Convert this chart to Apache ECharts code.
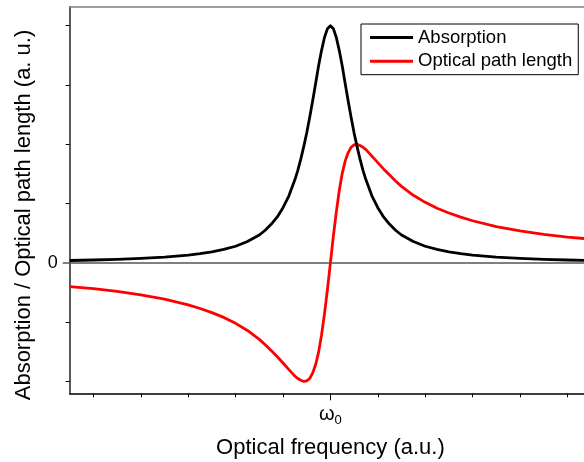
<!DOCTYPE html>
<html>
<head>
<meta charset="utf-8">
<script src="https://cdn.jsdelivr.net/npm/echarts@6/dist/echarts.min.js"></script>
<style>html,body{margin:0;padding:0;background:#fff}#c{width:584px;height:462px}</style>
</head>
<body>
<div id="c"></div>
<script>
// Data (x in tick units, omega0 at 0)
var freq = [-5.5,-5,-4.5,-4,-3.5,-3,-2.75,-2.5,-2.25,-2,-1.75,-1.5,-1.375,-1.25,-1.125,-1,-0.875,-0.75,-0.6875,-0.625,-0.5625,-0.5,-0.4375,-0.375,-0.3125,-0.25,-0.1875,-0.125,-0.0625,
  0,
  0.0625,0.125,0.1875,0.25,0.3125,0.375,0.4375,0.5,0.5625,0.625,0.6875,0.75,0.875,1,1.125,1.25,1.375,1.5,1.75,2,2.25,2.5,2.75,3,3.5,4,4.5,5,5.5];
var absorption = [0.040,0.048,0.059,0.074,0.096,0.13,0.154,0.185,0.226,0.28,0.36,0.47,0.55,0.65,0.77,0.93,1.13,1.40,1.56,1.75,1.96,2.19,2.45,2.73,3.02,3.32,3.58,3.80,3.95,
  4.0,
  3.95,3.80,3.58,3.32,3.02,2.73,2.45,2.19,1.96,1.75,1.56,1.40,1.13,0.93,0.77,0.65,0.55,0.47,0.36,0.28,0.226,0.185,0.154,0.13,0.096,0.074,0.059,0.048,0.040];
var pathLength = [-0.40,-0.435,-0.48,-0.54,-0.61,-0.71,-0.77,-0.84,-0.92,-1.02,-1.14,-1.29,-1.38,-1.48,-1.58,-1.69,-1.80,-1.91,-1.95,-1.98,-2.00,-1.99,-1.95,-1.86,-1.72,-1.51,-1.22,-0.86,-0.45,
  0,
  0.45,0.86,1.22,1.51,1.72,1.86,1.95,1.99,2.00,1.98,1.95,1.91,1.80,1.69,1.58,1.48,1.38,1.29,1.14,1.02,0.92,0.84,0.77,0.71,0.61,0.54,0.48,0.435,0.40];
var xTicks = [-5,-4,-3,-2,-1,0,1,2,3,4,5];
var yTicks = [-2,-1,1,2,3,4];
var seriesNames = ['Absorption','Optical path length'];
var xTitle = 'Optical frequency (a.u.)';
var yTitle = 'Absorption / Optical path length (a. u.)';

var FONT = 'Liberation Sans, Arial, sans-serif';
function pairs(xs, ys){ return xs.map(function(x,i){ return [x, ys[i]]; }); }

var chart = echarts.init(document.getElementById('c'), null, {renderer:'canvas'});
chart.setOption({
  animation: false,
  backgroundColor: '#fff',
  grid: {left: 69.7, top: 6.7, width: 521.4, bottom: 68.7, containLabel: false, outerBoundsMode: 'none'},
  legend: {
    data: seriesNames,
    orient: 'vertical',
    left: 361, top: 24,
    padding: [4, 6, 4, 9],
    icon: 'rect',
    itemWidth: 43, itemHeight: 3, itemGap: 4.7,
    borderColor: '#000', borderWidth: 1,
    textStyle: {fontFamily: FONT, fontSize: 18.5, color: '#000', lineHeight: 18},
    selectedMode: false
  },
  xAxis: [
    {type:'value', min:-5.5, max:5.5, position:'bottom',
     axisLine:{show:true, onZero:false, lineStyle:{color:'#000', width:1.5}},
     axisTick:{show:true, inside:false, length:4, customValues:xTicks, lineStyle:{color:'#000', width:1}},
     axisLabel:{show:false}, splitLine:{show:false},
     name: xTitle, nameLocation:'middle', nameGap:44,
     nameTextStyle:{fontFamily:FONT, fontSize:22, color:'#000'}},
    {type:'value', min:-5.5, max:5.5, position:'bottom',
     axisLine:{show:false, onZero:false},
     axisTick:{show:true, length:7, customValues:[0], lineStyle:{color:'#000', width:1}},
     axisLabel:{show:true, customValues:[0], margin:9,
       formatter:function(){ return '{w|ω}{s|0}'; },
       rich:{w:{fontFamily:FONT, fontSize:20, color:'#000'}, s:{fontFamily:FONT, fontSize:13, color:'#000', padding:[12,0,0,0]}}},
     splitLine:{show:false}},
    {type:'value', min:-5.5, max:5.5, position:'top',
     axisLine:{show:true, onZero:false, lineStyle:{color:'#808080', width:1.5}},
     axisTick:{show:false}, axisLabel:{show:false}, splitLine:{show:false}}
  ],
  yAxis: [
    {type:'value', min:-2.2, max:4.32, position:'left',
     axisLine:{show:true, onZero:false, lineStyle:{color:'#222', width:1.5}},
     axisTick:{show:true, length:4, customValues:yTicks, lineStyle:{color:'#000', width:1}},
     axisLabel:{show:false}, splitLine:{show:false}},
    {type:'value', min:-2.2, max:4.32, position:'left',
     axisLine:{show:false, onZero:false},
     axisTick:{show:true, length:7, customValues:[0], lineStyle:{color:'#555', width:1.5}},
     axisLabel:{show:true, customValues:[0], margin:12, fontFamily:FONT, fontSize:18, color:'#000'},
     splitLine:{show:false}}
  ],
  graphic: [{
    type:'text',
    rotation: Math.PI/2,
    x: 24, y: 215,
    style:{text: yTitle, fontFamily: FONT, fontSize: 22, fill:'#000', align:'center', verticalAlign:'middle'}
  }],
  series: [
    {name: seriesNames[1], type:'line', xAxisIndex:0, yAxisIndex:0, data: pairs(freq, pathLength),
     smooth:false, symbol:'none', showSymbol:false, clip:true, z:2,
     lineStyle:{color:'#ff0000', width:2.8, join:'round'}, itemStyle:{color:'#ff0000'}},
    {name: seriesNames[0], type:'line', xAxisIndex:0, yAxisIndex:0, data: pairs(freq, absorption),
     smooth:false, symbol:'none', showSymbol:false, clip:true, z:3,
     lineStyle:{color:'#000', width:2.8, join:'round'}, itemStyle:{color:'#000'},
     markLine:{silent:true, symbol:'none', label:{show:false},
       lineStyle:{color:'#555', width:1.5, type:'solid'}, data:[{yAxis:0}]}}
  ]
});
</script>
</body>
</html>
